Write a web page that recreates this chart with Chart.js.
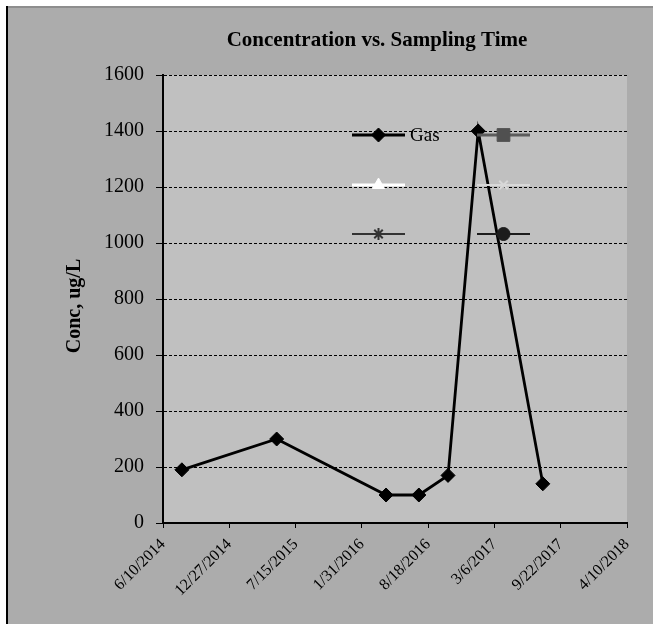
<!DOCTYPE html>
<html>
<head>
<meta charset="utf-8">
<script src="https://cdn.jsdelivr.net/npm/chart.js@4"></script>
<style>
  html, body { margin: 0; padding: 0; background: #fff; }
  #wrap { width: 653px; height: 624px; }
</style>
</head>
<body>
<div id="wrap"><canvas id="concChart"></canvas></div>
<script>
// data
const sampleDates = ['2014-08-06', '2015-05-19', '2016-04-13', '2016-07-21', '2016-10-17', '2017-01-16', '2017-07-30'];
const gasConc = [190, 300, 100, 100, 170, 1400, 140];
const startDate = '2014-06-10';
const endDate = '2018-04-10';
const dayStep = 200;
const yMin = 0, yMax = 1600, yStep = 200;
const chartTitle = 'Concentration vs. Sampling Time';
const yTitle = 'Conc, ug/L';

const DAY = 86400000;
const t0 = Date.parse(startDate);
const toDays = d => Math.round((Date.parse(d) - t0) / DAY);
const fmtDate = v => {
    const d = new Date(t0 + v * DAY);
    return (d.getUTCMonth() + 1) + '/' + d.getUTCDate() + '/' + d.getUTCFullYear();
};

const gasPoints = sampleDates.map((d, i) => ({ x: toDays(d), y: gasConc[i] }));
const serif = 'Liberation Serif, Times New Roman, serif';

// frame, plot background, titles
const backdrop = {
    id: 'backdrop',
    beforeDraw(chart) {
        const { ctx, width, height, chartArea: a } = chart;
        ctx.save();
        ctx.fillStyle = '#fff';
        ctx.fillRect(0, 0, width, height);
        ctx.fillStyle = '#acacac';
        ctx.fillRect(7, 7, width - 7, height - 7);
        ctx.fillStyle = '#8e8e8e';
        ctx.fillRect(7, 6, width - 7, 2);
        ctx.fillStyle = '#000';
        ctx.fillRect(6, 6, 2, height - 6);
        ctx.fillStyle = '#c0c0c0';
        ctx.fillRect(a.left, a.top, a.right - a.left, a.bottom - a.top);
        ctx.restore();
    },
    afterDraw(chart) {
        const ctx = chart.ctx;
        ctx.save();
        ctx.fillStyle = '#000';
        ctx.textAlign = 'center';
        ctx.textBaseline = 'middle';
        ctx.font = 'bold 21px ' + serif;
        ctx.fillText(chartTitle, 377, 41);
        // y axis title, sits a bit below the plot middle like the original
        ctx.translate(75, 306);
        ctx.rotate(-Math.PI / 2);
        ctx.font = 'bold 20px ' + serif;
        ctx.fillText(yTitle, 0, 0);
        ctx.restore();
    }
};

// legend sits inside the plot, two columns
const legendSlots = [[189, 60], [314, 60], [189, 110], [314, 110], [189, 159], [314, 159]];
const inPlotLegend = {
    id: 'inPlotLegend',
    afterDatasetsDraw(chart) {
        const { ctx, chartArea: a } = chart;
        chart.data.datasets.forEach((ds, i) => {
            const [ox, oy] = legendSlots[i];
            const x = a.left + ox, y = a.top + oy;
            ctx.save();
            ctx.strokeStyle = ds.borderColor;
            ctx.lineWidth = ds.borderWidth;
            ctx.beginPath();
            ctx.moveTo(x, y);
            ctx.lineTo(x + 53, y);
            ctx.stroke();
            ctx.fillStyle = ds.pointBackgroundColor;
            ctx.strokeStyle = ds.pointBorderColor;
            ctx.lineWidth = ds.pointBorderWidth;
            Chart.helpers.drawPoint(ctx, {
                pointStyle: ds.pointStyle, rotation: 0,
                radius: ds.pointRadius, borderWidth: ds.pointBorderWidth
            }, x + 26.5, y);
            if (ds.label) {
                ctx.fillStyle = '#000';
                ctx.font = '19px ' + serif;
                ctx.textAlign = 'left';
                ctx.textBaseline = 'middle';
                ctx.fillText(ds.label, x + 58, y + 1);
            }
            ctx.restore();
        });
    }
};

const mkSeries = (label, data, color, fill, style, radius, lw, pbw) => ({
    label: label,
    data: data,
    borderColor: color,
    backgroundColor: fill,
    borderWidth: lw,
    pointStyle: style,
    pointRadius: radius,
    pointHoverRadius: radius,
    pointBackgroundColor: fill,
    pointBorderColor: fill,
    pointBorderWidth: pbw,
    tension: 0
});

const ctx = document.getElementById('concChart').getContext('2d');
const chart = new Chart(ctx, {
    type: 'line',
    data: {
        datasets: [
            mkSeries('Gas', gasPoints, '#000', '#000', 'rectRot', 7, 2.8, 1),
            mkSeries('', [], '#5c5c5c', '#505050', 'rect', 9, 3, 1),
            mkSeries('', [], '#ffffff', '#ffffff', 'triangle', 7, 3, 1),
            mkSeries('', [], '#d8d8d8', '#d8d8d8', 'crossRot', 6, 2, 2),
            mkSeries('', [], '#333333', '#333333', 'star', 6, 2, 2),
            mkSeries('', [], '#1c1c1c', '#1c1c1c', 'circle', 6.5, 2, 1)
        ]
    },
    options: {
        responsive: true,
        maintainAspectRatio: false,
        animation: false,
        layout: { padding: { left: 0, top: 75, right: 26, bottom: 0 } },
        plugins: {
            legend: { display: false },
            title: { display: false },
            tooltip: { enabled: false }
        },
        scales: {
            x: {
                type: 'linear',
                position: 'bottom',
                min: 0,
                max: toDays(endDate),
                afterFit: s => { s.height = 101; },
                ticks: {
                    stepSize: dayStep,
                    autoSkip: false,
                    minRotation: 45,
                    maxRotation: 45,
                    padding: 7,
                    color: '#000',
                    font: { family: serif, size: 16 },
                    callback: v => fmtDate(v)
                },
                grid: { drawOnChartArea: false, drawTicks: true, tickLength: 5, tickColor: '#000', tickWidth: 1 },
                border: { display: true, color: '#000', width: 2 }
            },
            y: {
                min: yMin,
                max: yMax,
                afterFit: s => { s.width = 163; },
                ticks: {
                    stepSize: yStep,
                    padding: 12,
                    color: '#000',
                    font: { family: serif, size: 20 },
                    callback: v => String(v)
                },
                grid: { color: '#000', lineWidth: 1, drawTicks: true, tickLength: 7, tickColor: '#000', tickWidth: 1 },
                border: { display: true, color: '#000', width: 2, dash: [3, 2] }
            }
        }
    },
    plugins: [backdrop, inPlotLegend]
});
</script>
</body>
</html>
